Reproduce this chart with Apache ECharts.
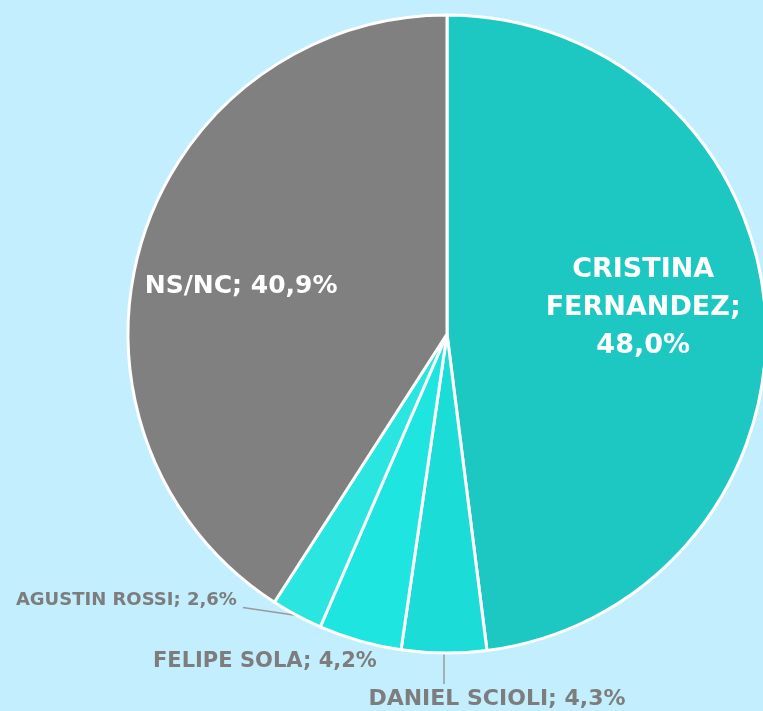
<!DOCTYPE html>
<html>
<head>
<meta charset="utf-8">
<script src="https://cdn.jsdelivr.net/npm/echarts@6/dist/echarts.min.js"></script>
<style>
  html, body { margin: 0; padding: 0; background: #c2eefe; }
  #main { width: 763px; height: 711px; }
</style>
</head>
<body>
<div id="main"></div>
<script>
  // datos de la encuesta
  var nombres = ['CRISTINA FERNANDEZ', 'DANIEL SCIOLI', 'FELIPE SOLA', 'AGUSTIN ROSSI', 'NS/NC'];
  var valores = [48.0, 4.3, 4.2, 2.6, 40.9];
  var colores = ['#1dc8c3', '#1cdcd7', '#1ee5e0', '#2ae5e0', '#808080'];

  function fmt(v) { return v.toFixed(1).replace('.', ','); }

  var fuente = '"DejaVu Sans", sans-serif';

  var datos = nombres.map(function (n, i) {
    var item = { name: n, value: valores[i], itemStyle: { color: colores[i] } };
    if (i === 0) {
      item.label = {
        position: 'inside', color: '#fff', fontSize: 27, fontWeight: 'bold', lineHeight: 38,
        formatter: function (p) { return p.name.replace(' ', '\n') + ';\n' + fmt(p.value) + '%'; }
      };
      item.labelLine = { show: false };
    } else if (i === 4) {
      item.label = { position: 'inside', color: '#fff', fontSize: 25, fontWeight: 'bold' };
      item.labelLine = { show: false };
    } else if (i === 1) {
      item.label = { fontSize: 22 };
    } else if (i === 2) {
      item.label = { fontSize: 21 };
      item.labelLine = { show: false };
    }
    return item;
  });

  // desplazamientos de las etiquetas respecto al punto de la porcion
  var ajustes = {
    0: { dx: 34, dy: -16 },
    4: { dx: -50, dy: -2 }
  };

  var myChart = echarts.init(document.getElementById('main'));
  var option = {
    backgroundColor: '#c2eefe',
    animation: false,
    series: [{
      type: 'pie',
      center: [447, 334],
      radius: 319,
      startAngle: 90,
      avoidLabelOverlap: false,
      itemStyle: { borderColor: '#fff', borderWidth: 3 },
      label: {
        position: 'outside',
        fontFamily: fuente,
        fontSize: 18,
        fontWeight: 'bold',
        color: '#7d7d7d',
        formatter: function (p) { return p.name + '; ' + fmt(p.value) + '%'; }
      },
      labelLine: { show: true, lineStyle: { color: '#9a9a9a', width: 1.5 }, length: 10, length2: 10 },
      emphasis: { disabled: true },
      data: datos
    }],
    textStyle: { fontFamily: fuente }
  };

  option.series[0].labelLayout = function (p) {
    var i = p.dataIndex;
    if (ajustes[i]) return { dx: ajustes[i].dx, dy: ajustes[i].dy };
    var a = p.labelLinePoints ? p.labelLinePoints[0] : [0, 0];
    var ax = a[0], ay = a[1];
    if (i === 1) {
      return {
        x: ax + 53, y: ay + 46, align: 'center', verticalAlign: 'middle',
        labelLinePoints: [[ax, ay], [ax, ay + 15], [ax, ay + 31]]
      };
    }
    if (i === 2) {
      return { x: ax - 95, y: ay + 21, align: 'center', verticalAlign: 'middle' };
    }
    if (i === 3) {
      return {
        x: ax - 60, y: ay - 15, align: 'right', verticalAlign: 'middle',
        labelLinePoints: [[ax, ay], [ax - 27, ay - 4], [ax - 54, ay - 8]]
      };
    }
  };

  myChart.setOption(option);
</script>
</body>
</html>
